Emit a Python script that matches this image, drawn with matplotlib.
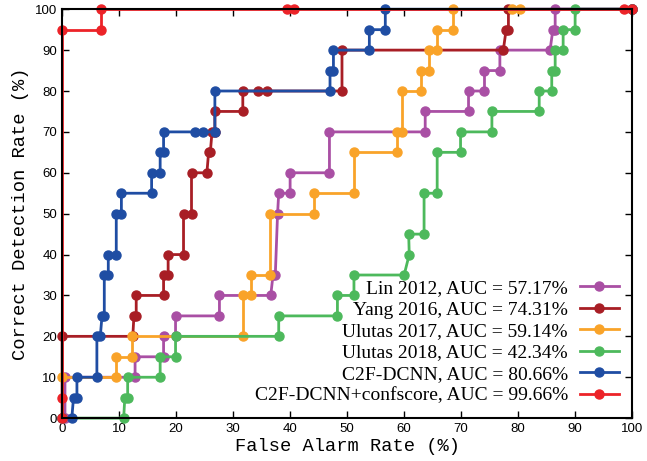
import numpy as np
import matplotlib
matplotlib.use('Agg')

import matplotlib.pyplot as plt

# ROC step curves, false alarm rate (%) vs correct detection rate (%)
lin_x = [0.5, 0.5, 12.8, 12.8, 17.8, 17.8, 19.9, 19.9, 27.6, 27.6, 36.6, 37.0, 37.4, 37.8, 38.0, 40.0, 40.0,
         46.9, 46.9, 63.7, 63.7, 71.3, 71.3, 74.1, 74.1, 76.8, 76.8, 85.6, 86.1, 86.5, 86.5, 100]
lin_y = [0, 10, 10, 15, 15, 20, 20, 25, 25, 30, 30, 35, 35, 50, 55, 55, 60,
         60, 70, 70, 75, 75, 80, 80, 85, 85, 90, 90, 95, 95, 100, 100]

yang_x = [0, 0, 12.4, 12.6, 13.0, 13.0, 17.8, 17.8, 18.6, 18.6, 21.3, 21.3, 22.7, 22.7, 25.4, 25.7, 26.0, 26.3,
          26.8, 26.8, 31.7, 31.7, 34.4, 35.9, 49.1, 49.1, 77.4, 77.9, 78.3, 78.3, 100]
yang_y = [0, 20, 20, 25, 25, 30, 30, 35, 35, 40, 40, 50, 50, 60, 60, 65, 65, 70,
          70, 75, 75, 80, 80, 80, 80, 90, 90, 95, 95, 100, 100]

ulutas17_x = [0, 0, 9.5, 9.5, 12.3, 12.3, 31.7, 31.7, 33.2, 33.2, 36.5, 36.5, 44.2, 44.2, 51.2, 51.2, 58.7, 58.7,
              59.6, 59.6, 62.9, 62.9, 64.4, 64.4, 65.8, 65.8, 68.5, 68.5, 78.9, 80.4, 100]
ulutas17_y = [0, 10, 10, 15, 15, 20, 20, 30, 30, 35, 35, 50, 50, 55, 55, 65, 65, 70,
              70, 80, 80, 85, 85, 90, 90, 95, 95, 100, 100, 100, 100]

ulutas18_x = [0, 10.8, 11.0, 11.5, 11.5, 17.2, 17.2, 19.9, 19.9, 38.0, 38.0, 48.3, 48.3, 51.2, 51.2, 60.0, 60.9,
              60.8, 63.5, 63.5, 65.8, 65.8, 69.9, 69.9, 75.4, 75.4, 83.7, 83.7, 85.9, 85.9, 86.5, 86.5, 87.9,
              87.9, 90.0, 90.0, 100]
ulutas18_y = [0, 0, 5, 5, 10, 10, 15, 15, 20, 20, 25, 25, 30, 30, 35, 35, 40,
              45, 45, 55, 55, 65, 65, 70, 70, 75, 75, 80, 80, 85, 85, 90, 90,
              95, 95, 100, 100]

c2f_x = [0, 1.7, 2.0, 2.6, 2.6, 6.1, 6.1, 6.7, 7.0, 7.4, 7.4, 8.1, 8.1, 9.5, 9.5, 10.4, 10.4, 15.7, 15.7,
         17.2, 17.2, 17.8, 17.8, 23.3, 24.8, 26.8, 26.8, 47.0, 47.0, 47.6, 47.6, 53.9, 53.9, 56.7, 56.7, 100]
c2f_y = [0, 0, 5, 5, 10, 10, 20, 20, 25, 25, 35, 35, 40, 40, 50, 50, 55, 55, 60,
         60, 65, 65, 70, 70, 70, 70, 80, 80, 85, 85, 90, 90, 95, 95, 100, 100]

conf_x = [0, 0, 0, 6.8, 6.8, 39.4, 40.6, 98.5, 100]
conf_y = [0, 5, 95, 95, 100, 100, 100, 100, 100]

labels = ["Lin 2012, AUC = 57.17%", "Yang 2016, AUC = 74.31%", "Ulutas 2017, AUC = 59.14%",
          "Ulutas 2018, AUC = 42.34%", "C2F-DCNN, AUC = 80.66%", "C2F-DCNN+confscore, AUC = 99.66%"]
colors = ["#A94FA4", "#A81E25", "#F9A329", "#4DB95C", "#1F4DA3", "#EC2328"]

fig = plt.figure(figsize=(6.47, 4.61), dpi=100)
ax = fig.add_axes([0.096, 0.093, 0.881, 0.887])

curves = [(lin_x, lin_y), (yang_x, yang_y), (ulutas17_x, ulutas17_y),
          (ulutas18_x, ulutas18_y), (c2f_x, c2f_y), (conf_x, conf_y)]
for (xs, ys), lab, c in zip(curves, labels, colors):
    ax.plot(xs, ys, '-o', color=c, lw=2.0, ms=6.5, label=lab, clip_on=False)

ax.set_xlim(0, 100)
ax.set_ylim(0, 100)
ax.set_xticks(np.arange(0, 101, 10))
ax.set_yticks(np.arange(0, 101, 10))
ax.tick_params(direction='in', top=True, right=True, length=5, width=1, labelsize=9.5)
for lbl in ax.get_xticklabels() + ax.get_yticklabels():
    lbl.set_family('Liberation Sans')
for s in ax.spines.values():
    s.set_linewidth(1.5)

ax.set_xlabel("False Alarm Rate (%)", family='Liberation Mono', fontsize=13.5, labelpad=2)
ax.set_ylabel("Correct Detection Rate (%)", family='Liberation Mono', fontsize=13.5, labelpad=4)

leg = ax.legend(loc='lower right', frameon=False, markerfirst=False, handlelength=2.0,
                labelspacing=0.2, borderaxespad=0.3, handletextpad=0.6,
                prop={'family': 'Liberation Serif', 'size': 14})
for t in leg.get_texts():
    t.set_ha('right')

fig.savefig('out.png', dpi=100)
